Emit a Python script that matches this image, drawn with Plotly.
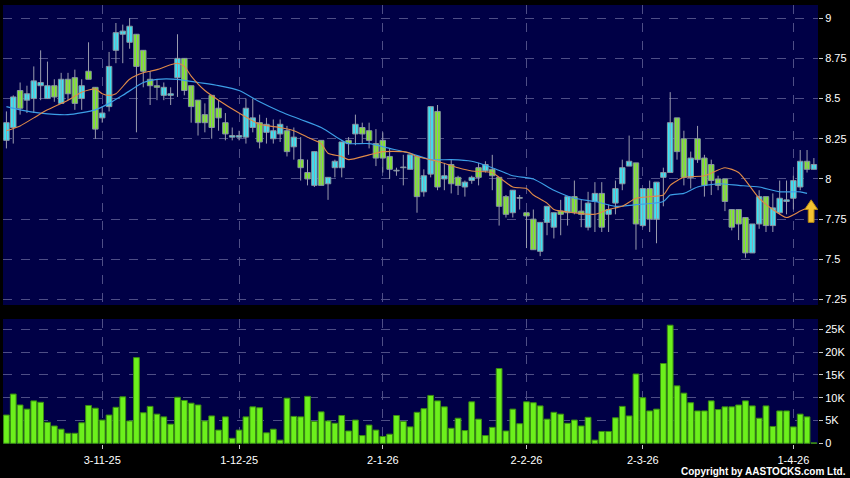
import plotly.graph_objects as go

# ---------------- data ----------------
OPEN = [8.24, 8.32, 8.55, 8.49, 8.50, 8.58, 8.50, 8.58, 8.47, 8.62,
        8.63, 8.50, 8.67, 8.57, 8.38, 8.45, 8.80, 8.90, 8.85, 8.90,
        8.80, 8.62, 8.58, 8.52, 8.52, 8.63, 8.75, 8.58, 8.49, 8.40,
        8.52, 8.44, 8.35, 8.26, 8.26, 8.26, 8.32, 8.35, 8.29, 8.25,
        8.28, 8.30, 8.20, 8.12, 8.04, 7.96, 8.24, 7.97, 8.07, 8.07,
        8.24, 8.28, 8.32, 8.30, 8.22, 8.24, 8.14, 8.05, 8.07, 8.06,
        8.14, 7.92, 8.03, 8.42, 8.00, 8.09, 8.01, 7.95, 7.99, 8.07,
        8.05, 8.06, 8.01, 7.89, 7.79, 7.88, 7.79, 7.75, 7.55, 7.73,
        7.70, 7.80, 7.79, 7.89, 7.80, 7.70, 7.86, 7.91, 7.78, 7.85,
        7.97, 8.08, 8.10, 7.71, 7.94, 7.75, 8.01, 8.04, 8.38, 8.25,
        8.01, 8.25, 8.13, 8.09, 8.00, 8.00, 7.81, 7.81, 7.76, 7.54,
        7.72, 7.89, 7.71, 7.79, 7.86, 7.88, 7.95, 8.11, 8.06]
HIGH = [8.42, 8.52, 8.60, 8.58, 8.70, 8.80, 8.73, 8.62, 8.66, 8.66,
        8.68, 8.62, 8.85, 8.57, 8.45, 8.79, 8.97, 8.96, 9.00, 8.90,
        8.80, 8.67, 8.62, 8.60, 8.57, 8.90, 8.75, 8.58, 8.49, 8.47,
        8.52, 8.49, 8.41, 8.32, 8.30, 8.50, 8.50, 8.40, 8.38, 8.37,
        8.37, 8.33, 8.32, 8.26, 8.12, 8.17, 8.24, 8.01, 8.12, 8.23,
        8.26, 8.40, 8.35, 8.35, 8.31, 8.29, 8.19, 8.07, 8.15, 8.15,
        8.14, 8.06, 8.45, 8.46, 8.10, 8.12, 8.02, 7.99, 8.02, 8.10,
        8.11, 8.15, 8.01, 7.90, 7.93, 7.90, 7.79, 7.81, 7.73, 7.83,
        7.79, 7.87, 7.89, 7.99, 7.87, 7.92, 7.98, 7.98, 7.84, 7.99,
        8.12, 8.27, 8.10, 7.94, 7.99, 7.98, 8.07, 8.54, 8.38, 8.30,
        8.17, 8.33, 8.15, 8.12, 8.02, 8.00, 7.81, 7.81, 7.76, 7.72,
        7.93, 7.89, 7.91, 7.99, 7.99, 8.02, 8.18, 8.18, 8.13]
LOW = [8.19, 8.22, 8.40, 8.41, 8.41, 8.49, 8.50, 8.48, 8.47, 8.49,
       8.43, 8.43, 8.62, 8.25, 8.35, 8.42, 8.72, 8.72, 8.81, 8.29,
       8.57, 8.46, 8.49, 8.49, 8.46, 8.51, 8.52, 8.35, 8.27, 8.29,
       8.25, 8.30, 8.24, 8.24, 8.24, 8.22, 8.29, 8.19, 8.22, 8.22,
       8.23, 8.14, 8.12, 7.99, 7.96, 7.95, 7.96, 7.87, 8.01, 8.01,
       8.15, 8.21, 8.22, 8.19, 8.08, 8.04, 8.00, 8.02, 7.96, 8.06,
       7.79, 7.89, 8.01, 7.93, 7.93, 7.91, 7.90, 7.89, 7.97, 7.96,
       8.04, 7.93, 7.71, 7.76, 7.76, 7.81, 7.57, 7.56, 7.52, 7.65,
       7.63, 7.65, 7.71, 7.78, 7.70, 7.68, 7.67, 7.67, 7.67, 7.78,
       7.93, 8.08, 7.56, 7.70, 7.67, 7.60, 7.83, 8.04, 8.12, 7.96,
       7.94, 8.10, 7.89, 7.90, 7.93, 7.80, 7.68, 7.62, 7.51, 7.54,
       7.69, 7.67, 7.67, 7.78, 7.78, 7.81, 7.93, 8.04, 8.06]
CLOSE = [8.35, 8.51, 8.44, 8.53, 8.61, 8.60, 8.58, 8.51, 8.62, 8.53,
         8.47, 8.58, 8.62, 8.31, 8.41, 8.70, 8.91, 8.92, 8.95, 8.70,
         8.67, 8.58, 8.57, 8.57, 8.53, 8.75, 8.55, 8.45, 8.35, 8.35,
         8.32, 8.38, 8.28, 8.27, 8.27, 8.44, 8.38, 8.23, 8.34, 8.30,
         8.34, 8.17, 8.26, 8.07, 8.00, 8.17, 7.96, 8.01, 8.11, 8.23,
         8.22, 8.34, 8.28, 8.24, 8.13, 8.13, 8.06, 8.05, 8.07, 8.15,
         7.89, 8.02, 8.45, 7.95, 8.02, 7.97, 7.96, 7.98, 8.01, 8.01,
         8.09, 8.02, 7.83, 7.78, 7.93, 7.88, 7.77, 7.56, 7.73, 7.83,
         7.79, 7.78, 7.89, 7.79, 7.78, 7.85, 7.91, 7.70, 7.81, 7.94,
         8.07, 8.11, 7.72, 7.94, 7.75, 7.98, 8.04, 8.35, 8.17, 8.01,
         8.13, 8.12, 7.96, 7.99, 7.96, 7.86, 7.70, 7.72, 7.54, 7.72,
         7.89, 7.71, 7.82, 7.88, 7.87, 7.99, 8.11, 8.06, 8.09]
# volume in thousands of shares
VOLUME_K = [6.2, 10.8, 8.4, 7.5, 9.3, 9.0, 4.6, 3.8, 3.1, 2.2,
            2.2, 4.5, 8.3, 7.7, 5.1, 6.2, 7.9, 10.2, 4.9, 18.8,
            6.7, 8.1, 6.4, 5.8, 4.2, 10.1, 9.4, 8.8, 8.4, 4.9,
            6.0, 2.9, 5.8, 1.1, 2.9, 5.8, 8.0, 7.8, 2.3, 3.1,
            0.7, 9.9, 5.9, 5.8, 10.3, 4.8, 6.9, 4.9, 4.4, 6.1,
            2.7, 5.1, 1.7, 4.0, 2.9, 1.5, 2.0, 6.1, 4.8, 3.6,
            6.8, 7.6, 10.5, 9.3, 8.0, 3.3, 5.5, 2.8, 9.1, 5.3,
            1.7, 3.5, 16.4, 2.7, 7.5, 4.3, 9.1, 8.9, 8.2, 5.3,
            6.8, 6.4, 4.4, 5.1, 3.8, 5.7, 0.7, 2.6, 2.6, 5.6,
            8.1, 6.0, 15.2, 10.0, 7.1, 7.5, 17.5, 25.9, 12.6, 11.0,
            8.9, 7.1, 7.1, 9.3, 7.4, 8.0, 8.0, 8.4, 9.3, 8.2,
            5.5, 8.2, 3.7, 7.1, 7.1, 3.6, 6.4, 5.8, 0.1]

# moving averages read at sample sessions
MA_SHORT_IDX = [0, 2, 4, 6, 9, 11, 13, 14, 15, 16, 18, 20, 21, 22, 24, 25, 26, 27, 29, 31,
                34, 37, 40, 42, 44, 46, 47, 49, 50, 53, 55, 58, 59, 60, 63, 66, 68, 71, 72, 74,
                76, 77, 79, 80, 83, 86, 88, 90, 92, 94, 96, 97, 99, 102, 105, 107, 110, 112, 114, 116, 117]
MA_SHORT = [8.30, 8.33, 8.38, 8.43, 8.49, 8.54, 8.56, 8.53, 8.52, 8.53, 8.62, 8.66, 8.67, 8.68, 8.71, 8.72, 8.70, 8.64, 8.55, 8.49,
            8.41, 8.34, 8.32, 8.30, 8.26, 8.22, 8.16, 8.14, 8.12, 8.15, 8.17, 8.17, 8.16, 8.14, 8.11, 8.07, 8.05, 8.04, 8.01, 7.95,
            7.94, 7.90, 7.85, 7.81, 7.79, 7.78, 7.81, 7.83, 7.88, 7.89, 7.90, 7.96, 8.01, 8.02, 8.07, 8.04, 7.88, 7.81, 7.76, 7.80, 7.82]
MA_LONG_IDX = [0, 2, 5, 9, 13, 15, 17, 20, 22, 25, 28, 31, 34, 37, 40, 43, 46, 49, 50, 53,
               56, 59, 62, 65, 68, 71, 74, 77, 80, 83, 86, 89, 92, 96, 97, 99, 101, 104, 107, 110,
               113, 116, 117]
MA_LONG = [8.45, 8.43, 8.41, 8.40, 8.43, 8.47, 8.52, 8.60, 8.62, 8.62, 8.60, 8.58, 8.55, 8.48, 8.42, 8.37, 8.32, 8.24, 8.22, 8.22,
           8.19, 8.16, 8.12, 8.12, 8.11, 8.07, 8.02, 8.00, 7.93, 7.88, 7.86, 7.83, 7.84, 7.86, 7.90, 7.91, 7.95, 7.97, 7.96, 7.95,
           7.92, 7.92, 7.91]

TICK_IDX = [14, 34, 55, 76, 93, 115]
TICK_TEXT = ["3-11-25", "1-12-25", "2-1-26", "2-2-26", "2-3-26", "1-4-26"]
PRICE_TICKS = [7.25, 7.5, 7.75, 8, 8.25, 8.5, 8.75, 9]
PRICE_TICK_TEXT = ["7.25", "7.5", "7.75", "8", "8.25", "8.5", "8.75", "9"]
VOL_TICKS = [0, 5, 10, 15, 20, 25]
VOL_TICK_TEXT = ["0", "5K", "10K", "15K", "20K", "25K"]

# signal arrow (session, prices)
ARROW_X = 117.6
ARROW_TOP, ARROW_NECK, ARROW_BOTTOM = 7.87, 7.81, 7.73

# ---------------- figure ----------------
n = len(CLOSE)
idx = list(range(n))
FONT = "Liberation Sans, Arial, sans-serif"
GRID = "#4e4e86"
UP, DOWN, FLAT = "#38e4f4", "#80e82a", "#a0a8b0"

wick_x, wick_y = [], []
for i in idx:
    wick_x += [i, i, None]
    wick_y += [LOW[i], HIGH[i], None]
body_base = [min(o, c) for o, c in zip(OPEN, CLOSE)]
body_h = [max(abs(c - o), 0.004) for o, c in zip(OPEN, CLOSE)]
body_col = [UP if c > o else (DOWN if c < o else FLAT) for o, c in zip(OPEN, CLOSE)]

fig = go.Figure()
fig.add_trace(go.Scatter(x=wick_x, y=wick_y, mode="lines",
                         line=dict(color="#9a9cae", width=1),
                         xaxis="x", yaxis="y", hoverinfo="skip"))
fig.add_trace(go.Bar(x=idx, y=body_h, base=body_base, width=0.8,
                     marker=dict(color=body_col, line=dict(color="#8494a0", width=1)),
                     xaxis="x", yaxis="y", hoverinfo="skip"))
fig.add_trace(go.Scatter(x=MA_LONG_IDX, y=MA_LONG, mode="lines",
                         line=dict(color="#3c9ee6", width=1.2, shape="spline", smoothing=0.6),
                         xaxis="x", yaxis="y", hoverinfo="skip"))
fig.add_trace(go.Scatter(x=MA_SHORT_IDX, y=MA_SHORT, mode="lines",
                         line=dict(color="#e08a48", width=1.1, shape="spline", smoothing=0.6),
                         xaxis="x", yaxis="y", hoverinfo="skip"))
fig.add_trace(go.Bar(x=idx, y=VOLUME_K, width=0.84,
                     marker=dict(color="#6cf01c", line=dict(color="#3a8c12", width=1)),
                     xaxis="x2", yaxis="y2", hoverinfo="skip"))

hw, sw = 0.95, 0.42
arrow_path = (f"M {ARROW_X - sw} {ARROW_BOTTOM} L {ARROW_X - sw} {ARROW_NECK} "
              f"L {ARROW_X - hw} {ARROW_NECK} L {ARROW_X} {ARROW_TOP} "
              f"L {ARROW_X + hw} {ARROW_NECK} L {ARROW_X + sw} {ARROW_NECK} "
              f"L {ARROW_X + sw} {ARROW_BOTTOM} Z")
fig.add_shape(type="path", path=arrow_path, xref="x", yref="y",
              fillcolor="#f4c232", line=dict(color="#b88a12", width=1))

xdom = [3 / 850, 818 / 850]
xr = [-0.5, n - 0.4]
axis_common = dict(showgrid=True, gridcolor=GRID, griddash="dash", gridwidth=1,
                   zeroline=False, showline=False)

fig.update_layout(
    width=850, height=478, margin=dict(l=0, r=0, t=0, b=0, autoexpand=False),
    paper_bgcolor="#000000", plot_bgcolor="#000046",
    showlegend=False, barmode="overlay", hovermode=False,
    font=dict(family=FONT, size=11, color="#ffffff"),
    xaxis=dict(domain=xdom, range=xr, tickvals=TICK_IDX, showticklabels=False,
               ticks="", anchor="y", automargin=False, **axis_common),
    yaxis=dict(domain=[1 - 305 / 478, 1 - 5 / 478], range=[7.216, 9.082], side="right",
               tickvals=PRICE_TICKS, ticktext=PRICE_TICK_TEXT, ticks="outside",
               ticklen=4, tickcolor="#c8c8c8", anchor="x", automargin=False, **axis_common),
    xaxis2=dict(domain=xdom, range=xr, tickvals=TICK_IDX, ticktext=TICK_TEXT,
                ticks="outside", ticklen=4, tickcolor="#c8c8c8", anchor="y2",
                ticklabelstandoff=2, matches="x", automargin=False, **axis_common),
    yaxis2=dict(domain=[1 - 444 / 478, 1 - 319 / 478], range=[-0.15, 27.26], side="right",
                tickvals=VOL_TICKS, ticktext=VOL_TICK_TEXT, ticks="outside",
                ticklen=4, tickcolor="#c8c8c8", anchor="x2", automargin=False, **axis_common),
    annotations=[dict(text="<b>Copyright by AASTOCKS.com Ltd.</b>", xref="paper", yref="paper",
                      x=848 / 850, y=1 - 471 / 478, xanchor="right", yanchor="middle",
                      showarrow=False, font=dict(size=10, color="#ffffff", family=FONT))],
)

fig.write_html("out.html", config={"displayModeBar": False, "staticPlot": True},
               post_script="document.body.style.margin='0';document.body.style.overflow='hidden';")
